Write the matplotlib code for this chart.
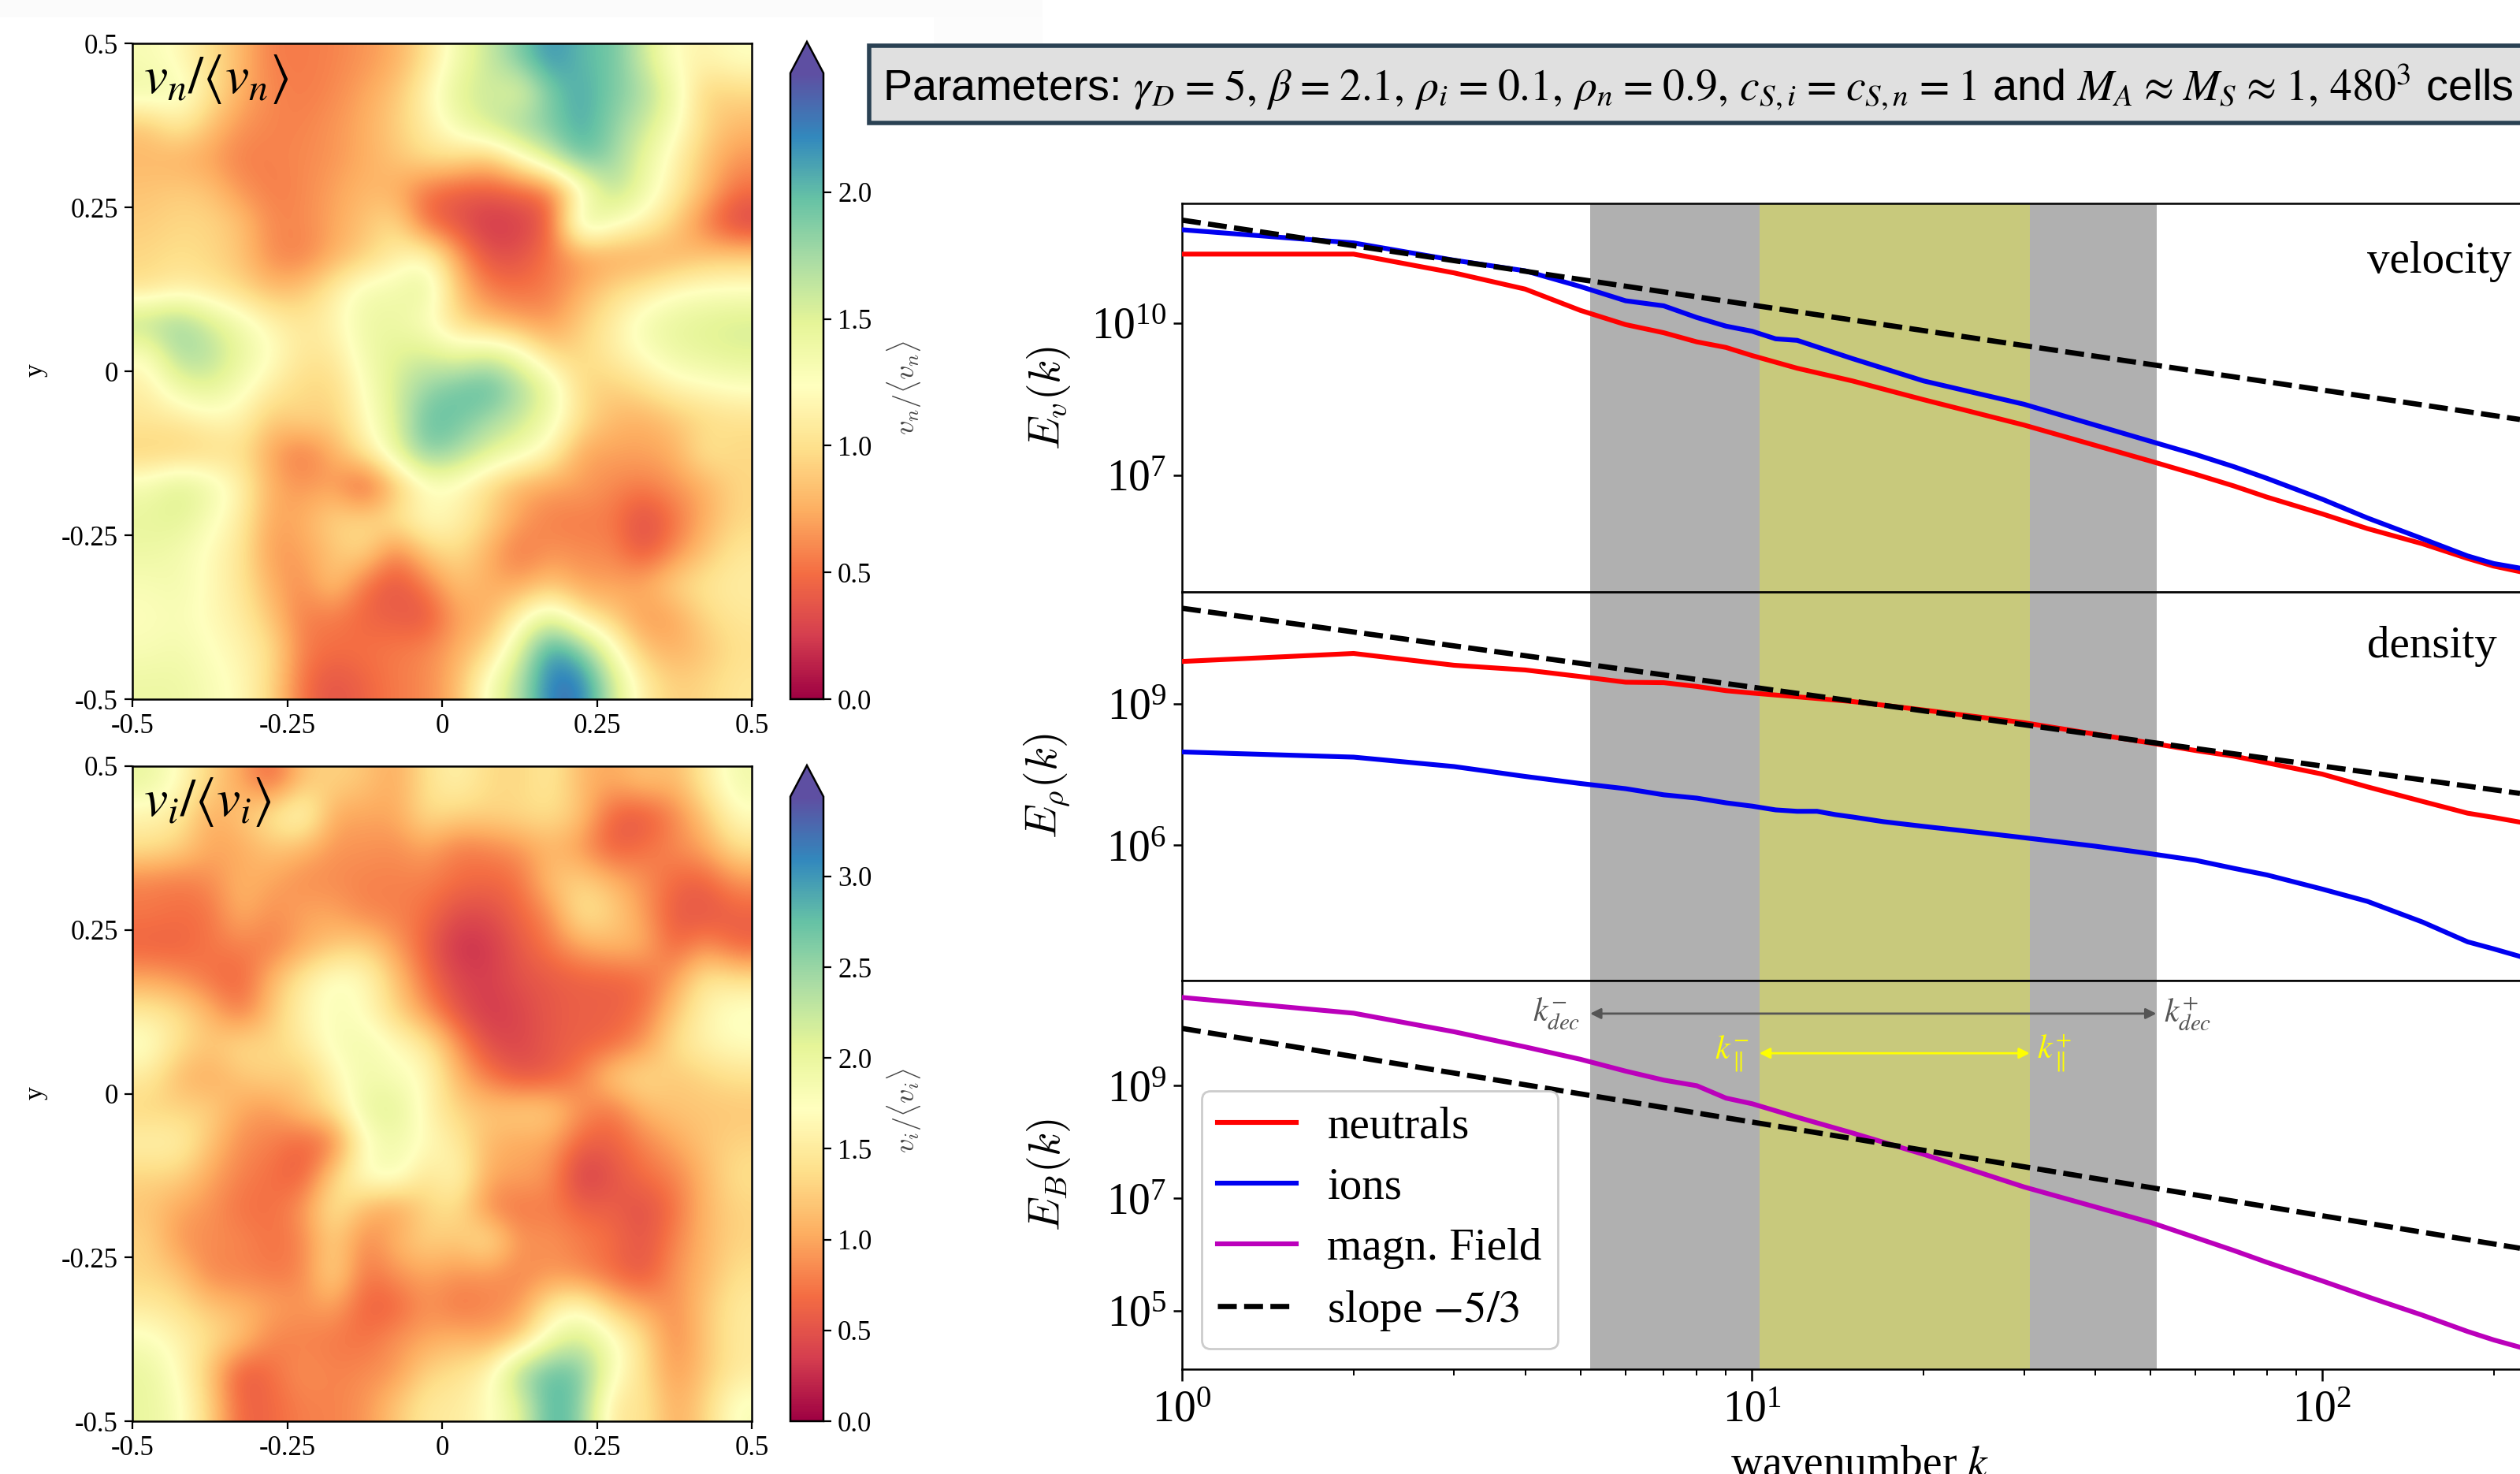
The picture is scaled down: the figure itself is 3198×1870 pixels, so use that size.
import numpy as np
import matplotlib
matplotlib.use("Agg")
import matplotlib.pyplot as plt
from matplotlib.lines import Line2D
from matplotlib.patches import Rectangle

plt.rcParams['font.family'] = ['Liberation Serif', 'DejaVu Serif']
plt.rcParams['mathtext.fontset'] = 'stix'
plt.rcParams['axes.unicode_minus'] = False

W, H = 3198, 1870
DPI = 200

# ---------- data ----------
vn_grid = [
 [1.30,1.20,1.00,0.80,0.55,0.55,0.58,0.65,0.75,1.00,1.35,1.60,1.90,2.20,2.00,1.95,1.60,1.20,1.15,1.25],
 [1.40,1.35,1.05,0.75,0.60,0.55,0.60,0.72,0.85,1.15,1.50,1.60,1.40,1.90,2.10,1.90,1.75,1.40,0.90,0.95],
 [0.85,1.10,0.85,0.65,0.58,0.58,0.65,0.75,0.90,1.10,1.35,1.60,1.80,1.90,2.10,1.85,1.60,1.30,0.95,0.80],
 [0.80,0.75,0.70,0.55,0.58,0.60,0.65,0.75,0.85,1.00,1.00,0.85,1.20,1.60,2.00,1.80,1.45,1.15,0.85,0.65],
 [0.85,0.90,0.85,0.65,0.55,0.60,0.70,0.80,0.75,0.50,0.40,0.40,0.45,0.50,1.10,1.70,1.40,1.10,0.80,0.50],
 [0.90,0.95,0.95,0.85,0.60,0.60,0.72,0.85,1.00,0.45,0.35,0.20,0.25,0.40,1.60,1.30,1.15,0.90,0.55,0.25],
 [0.95,1.00,0.95,0.85,0.60,0.55,0.75,0.90,1.10,1.25,0.70,0.35,0.35,0.55,0.65,0.70,0.70,0.75,0.85,0.90],
 [1.00,1.10,1.05,0.95,0.80,0.85,1.10,1.35,1.35,1.50,0.85,0.55,0.50,0.55,0.75,0.95,1.05,1.20,1.25,1.25],
 [1.70,1.80,1.55,1.35,1.15,1.05,1.15,1.40,1.40,1.25,0.95,0.80,0.70,0.65,0.90,1.10,1.35,1.45,1.50,1.55],
 [1.25,1.75,1.70,1.45,1.25,1.05,1.05,1.35,1.50,1.55,1.40,1.55,1.35,0.95,0.95,1.10,1.25,1.40,1.45,1.50],
 [1.10,1.40,1.50,1.30,1.10,0.95,0.95,1.25,1.55,1.80,1.95,2.05,1.75,1.45,0.95,0.90,1.00,1.15,1.20,1.25],
 [1.05,1.05,1.15,1.15,0.85,0.95,0.90,1.20,1.50,2.00,1.95,1.75,1.60,1.35,1.00,0.80,0.75,0.85,0.95,1.00],
 [0.90,0.90,0.95,1.00,0.70,0.50,0.75,1.05,1.45,1.90,1.75,1.50,1.35,1.15,0.70,0.70,0.70,0.75,1.05,0.95],
 [1.35,1.55,1.40,1.15,0.75,0.65,0.70,0.35,0.80,1.20,1.20,0.95,0.75,0.70,0.70,0.60,0.55,0.65,0.75,0.95],
 [1.45,1.50,1.30,1.10,0.70,0.75,0.95,0.95,1.05,1.25,1.15,0.95,0.70,0.55,0.55,0.55,0.30,0.50,0.75,0.95],
 [1.40,1.35,1.20,1.05,0.65,0.70,0.85,1.00,0.55,0.90,1.00,0.75,0.50,0.65,0.60,0.60,0.35,0.60,0.85,1.05],
 [1.30,1.35,1.20,1.05,0.75,0.60,0.90,0.50,0.35,0.55,0.85,0.75,0.70,0.85,0.70,0.70,0.75,0.95,1.05,1.10],
 [1.25,1.30,1.20,1.10,0.85,0.55,0.55,0.45,0.42,0.35,0.70,0.75,1.15,1.50,1.05,0.90,0.65,0.70,0.95,1.05],
 [1.30,1.35,1.25,1.15,1.00,0.55,0.50,0.52,0.55,0.60,0.75,0.95,1.50,2.20,1.90,1.30,0.85,0.75,0.85,1.00],
 [1.40,1.40,1.30,1.20,0.95,0.50,0.35,0.45,0.55,0.60,0.80,1.30,1.70,2.30,2.30,1.60,1.10,0.90,0.95,1.05],
]
vi_grid = [
 [2.0,1.7,1.3,1.0,0.6,1.2,1.3,1.2,1.0,1.4,1.6,1.35,1.3,1.5,1.1,1.0,1.2,1.1,1.5,1.9],
 [1.6,1.5,1.0,1.2,1.5,1.8,1.0,1.0,1.0,1.4,1.3,1.3,1.35,1.4,1.2,0.6,0.5,0.8,1.2,1.7],
 [1.4,1.3,1.0,1.0,1.2,1.1,0.9,0.9,0.85,1.0,0.75,0.8,0.9,1.1,0.9,0.55,0.7,0.85,1.0,1.4],
 [0.8,0.75,0.85,1.1,1.0,0.85,0.85,0.8,0.8,0.8,0.7,0.65,0.7,1.2,1.3,1.1,0.9,0.65,0.6,0.9],
 [0.75,0.7,0.7,1.1,0.85,1.0,1.0,0.8,0.8,0.7,0.45,0.45,0.65,0.85,1.5,1.3,0.95,0.55,0.5,0.6],
 [0.6,0.6,0.75,0.8,0.75,1.0,1.2,1.3,0.95,0.6,0.25,0.3,0.55,0.75,1.0,1.1,1.1,0.6,0.9,0.6],
 [1.0,0.9,0.7,0.6,1.1,1.5,1.8,1.7,1.2,0.7,0.4,0.35,0.5,0.55,0.6,0.6,0.65,0.95,1.5,1.4],
 [1.5,1.4,1.1,0.7,1.2,1.6,1.8,1.7,1.3,0.9,0.5,0.3,0.4,0.55,0.6,0.6,0.7,1.2,1.6,1.8],
 [1.8,1.4,1.2,1.4,1.3,1.5,1.8,1.9,1.7,1.5,0.9,0.45,0.4,0.55,0.6,0.65,0.9,1.4,1.6,1.7],
 [1.5,1.1,1.0,1.2,1.3,1.2,1.6,1.9,1.8,1.7,1.1,0.75,0.5,0.55,0.8,1.3,1.4,1.2,1.3,1.4],
 [1.3,1.3,1.3,1.0,0.9,1.2,1.4,2.0,2.1,1.6,1.3,1.2,1.3,1.3,0.9,0.7,1.1,1.2,1.2,1.2],
 [1.6,1.6,1.2,0.85,0.8,0.6,0.7,1.7,1.9,1.7,1.5,1.1,1.0,1.0,0.6,0.6,0.8,1.0,1.2,1.3],
 [1.3,1.3,1.0,0.8,0.7,0.55,1.3,1.8,1.9,1.4,1.7,1.0,1.0,0.9,0.3,0.5,0.7,0.8,1.1,1.4],
 [1.2,1.0,0.9,0.7,0.7,0.9,1.5,1.1,0.9,1.3,1.4,0.8,0.7,0.8,0.6,0.6,0.45,0.7,1.1,1.3],
 [1.3,0.9,0.85,0.85,0.7,0.8,1.3,0.8,1.1,1.3,1.2,1.5,0.9,0.9,0.8,0.7,0.5,0.8,1.1,1.3],
 [1.3,1.2,0.8,0.8,0.75,0.8,1.4,0.7,0.9,1.0,0.9,0.9,0.8,0.9,0.8,0.65,0.5,0.9,1.1,1.4],
 [1.5,1.4,1.2,1.1,1.0,0.9,1.0,0.6,0.6,0.9,0.7,0.8,0.9,1.5,1.7,1.2,1.0,0.85,1.2,1.5],
 [1.8,1.6,1.4,1.2,0.8,0.8,0.75,0.7,0.9,1.0,1.1,1.0,1.2,1.9,2.2,1.8,1.4,0.8,1.2,1.5],
 [2.0,1.7,1.2,0.5,0.7,0.9,0.8,0.85,0.9,1.3,1.4,1.6,2.5,2.8,2.7,1.8,1.4,0.9,1.2,1.5],
 [2.0,1.8,1.3,0.6,0.65,0.8,0.8,0.9,1.2,1.5,1.5,1.7,2.0,2.9,2.6,1.4,1.5,1.0,1.3,1.8],
]
vn_max = 2.47
vi_max = 3.44
vn_ticks = [0.0, 0.5, 1.0, 1.5, 2.0]
vi_ticks = [0.0, 0.5, 1.0, 1.5, 2.0, 2.5, 3.0]
xy_ticks = [-0.5, -0.25, 0, 0.25, 0.5]
xy_labels = ['-0.5', '-0.25', '0', '0.25', '0.5']

# velocity spectra (log10 of E)
k_vel_n = [1, 2, 3, 4, 5, 6, 7, 8, 9, 10, 12, 15, 20, 30, 50, 60, 70, 80, 100, 120, 150, 180, 200, 222.4]
logE_vel_n = [11.36, 11.36, 10.99, 10.67, 10.25, 9.97, 9.81, 9.63, 9.52, 9.36, 9.11, 8.86, 8.49, 7.99,
              7.28, 7.02, 6.79, 6.57, 6.24, 5.95, 5.65, 5.36, 5.21, 5.10]
k_vel_i = [1, 2, 3, 4, 5, 6, 7, 8, 9, 10, 11, 12, 15, 20, 30, 50, 60, 70, 80, 100, 120, 150, 180, 200, 222.4]
logE_vel_i = [11.84, 11.58, 11.24, 11.03, 10.72, 10.44, 10.34, 10.11, 9.94, 9.84, 9.69, 9.66, 9.30, 8.86, 8.40,
              7.67, 7.41, 7.17, 6.94, 6.53, 6.16, 5.75, 5.41, 5.26, 5.17]
logE_vel_slope = [12.03, 8.10]

# density spectra
k_den_n = [1, 2, 3, 4, 5, 6, 7, 8, 9, 10, 12, 15, 20, 30, 50, 60, 70, 80, 100, 120, 150, 180, 200, 222.4]
logE_den_n = [9.90, 10.07, 9.82, 9.72, 9.58, 9.46, 9.45, 9.37, 9.28, 9.23, 9.15, 9.05, 8.87, 8.60,
              8.17, 8.01, 7.89, 7.75, 7.51, 7.24, 6.93, 6.68, 6.59, 6.49]
k_den_i = [1, 2, 3, 4, 5, 6, 7, 8, 9, 10, 11, 12, 13, 14, 15, 17, 20, 25, 30, 40, 50, 60, 70, 80, 100, 120, 150, 180, 200, 222.4]
logE_den_i = [7.98, 7.87, 7.67, 7.46, 7.31, 7.20, 7.07, 7.00, 6.90, 6.83, 6.75, 6.72, 6.72, 6.65, 6.60, 6.50, 6.40,
              6.27, 6.16, 5.98, 5.82, 5.68, 5.51, 5.37, 5.07, 4.81, 4.37, 3.95, 3.80, 3.64]
logE_den_slope = [11.03, 7.10]

# magnetic spectrum
k_mag = [1, 2, 3, 4, 5, 6, 7, 8, 9, 10, 12, 15, 20, 30, 50, 60, 70, 80, 100, 120, 150, 180, 200, 222.4]
logE_mag = [10.57, 10.29, 9.96, 9.69, 9.47, 9.26, 9.10, 9.00, 8.78, 8.68, 8.44, 8.16, 7.78, 7.20,
            6.57, 6.30, 6.07, 5.86, 5.53, 5.25, 4.92, 4.63, 4.48, 4.35]
logE_mag_slope = [10.02, 6.11]

k_slope = [1, 222.4]
k_dec = [5.2, 51.2]
k_par = [10.3, 30.7]
k_max = 222.4

panel_names = ['velocity', 'density']
legend_labels = ['neutrals', 'ions', 'magn. Field', r'slope $-5/3$']

# ---------- helpers ----------
fig = plt.figure(figsize=(W / DPI, H / DPI), dpi=DPI)

def axpx(x0, y0, x1, y1, **kw):
    return fig.add_axes([x0 / W, 1 - y1 / H, (x1 - x0) / W, (y1 - y0) / H], **kw)

fig.patches.append(Rectangle((0, 1 - 22 / H), 1323 / W, 22 / H, transform=fig.transFigure,
                             fc='#fbfbfb', ec='none', zorder=-5))
fig.patches.append(Rectangle((1185 / W, 1 - 55 / H), 138 / W, 33 / H, transform=fig.transFigure,
                             fc='#fcfcfc', ec='none', zorder=-5))

def heat(grid, vmax, ticks, y0, y1, cby0, title, cblabel, ylab_y):
    ax = axpx(168, y0, 954, y1)
    im = ax.imshow(np.array(grid), cmap='Spectral', vmin=0, vmax=vmax, origin='upper',
                   extent=[-0.5, 0.5, -0.5, 0.5], aspect='auto', interpolation='bicubic')
    ax.set_xticks(xy_ticks)
    ax.set_xticklabels(xy_labels)
    ax.set_yticks(xy_ticks)
    ax.set_yticklabels(xy_labels)
    ax.tick_params(labelsize=12.5, length=3.5, width=0.8, pad=3)
    for s in ax.spines.values():
        s.set_linewidth(0.9)
    ax.text(0.018, 0.985, title, transform=ax.transAxes, ha='left', va='top', fontsize=24.5, color='k')
    fig.text(45 / W, 1 - ylab_y / H, 'y', rotation=90, ha='center', va='center', fontsize=12)
    cax = axpx(1003, cby0, 1045, y1)
    cb = fig.colorbar(im, cax=cax, extend='max', extendfrac=0.05, ticks=ticks)
    cb.ax.set_yticklabels(['%.1f' % t for t in ticks])
    cb.ax.tick_params(labelsize=12.5, length=3.5, width=0.8, pad=3)
    cb.outline.set_linewidth(0.9)
    fig.text(1148 / W, 1 - (ylab_y + 22) / H, cblabel, rotation=90, ha='center', va='center',
             fontsize=13, color='#444444', math_fontfamily='cm')
    return ax

heat(vn_grid, vn_max, vn_ticks, 55, 887, 53, r'$v_n/\langle v_n\rangle$', r'$v_n/\langle v_n\rangle$', 470)
heat(vi_grid, vi_max, vi_ticks, 972, 1803, 971, r'$v_i/\langle v_i\rangle$', r'$v_i/\langle v_i\rangle$', 1387)

# parameter box
fig.patches.append(Rectangle((1103 / W, 1 - 156 / H), 2300 / W, 98 / H, transform=fig.transFigure,
                             fc='#e0e0e0', ec='#2a4153', lw=2.0, zorder=1))
s_ = r'\hspace{0.09}'
rel_eq = s_ + '=' + s_
rel_ap = s_ + r'\approx' + s_
fig.text(1120 / W, 1 - 110 / H,
         r'Parameters: $\gamma_D' + rel_eq + r'5,\, \beta' + rel_eq + r'2.1,\, \rho_i' + rel_eq + r'0.1,\, \rho_n' + rel_eq
         + r'0.9,\, c_{S,i}' + rel_eq + r'c_{S,n}' + rel_eq + r'1$ and $M_A' + rel_ap + r'M_S' + rel_ap + r'1,\, 480^3$ cells',
         family=['Liberation Sans'], fontsize=20.05, ha='left', va='center', zorder=3)

# spectra panels
RED, BLUE, MAG = '#ff0000', '#0000f0', '#bb00bb'
LW = 2.2
def spec(y0, y1, ylim, yticks, ylab):
    ax = axpx(1500, y0, W, y1)
    ax.set_xscale('log')
    ax.set_yscale('log')
    ax.set_xlim(1, k_max)
    ax.set_ylim(10.0 ** ylim[0], 10.0 ** ylim[1])
    ax.axvspan(k_dec[0], k_dec[1], color='#b0b0b0', lw=0, zorder=0)
    ax.axvspan(k_par[0], k_par[1], color='#c8c97c', lw=0, zorder=0.5)
    ax.set_yticks([10.0 ** t for t in yticks])
    ax.set_yticklabels([r'$\mathdefault{10^{%d}}$' % t for t in yticks])
    ax.minorticks_off()
    ax.tick_params(axis='y', which='major', labelsize=20, length=4, width=0.9, pad=3)
    ax.spines['right'].set_visible(False)
    for s in ['top', 'bottom', 'left']:
        ax.spines[s].set_linewidth(0.9)
    ax.set_ylabel(ylab, fontsize=20, math_fontfamily='cm')
    ax.yaxis.set_label_coords((1361 - 1500) / (W - 1500), 0.5)
    return ax

def plot_log(ax, k, logE, **kw):
    ax.plot(k, 10.0 ** np.array(logE), **kw)

ax1 = spec(258, 751, (4.70, 12.36), [7, 10], r'$E_v(k)$')
ax2 = spec(751, 1244, (3.128, 11.375), [6, 9], r'$E_\rho(k)$')
ax3 = spec(1244, 1737, (3.96, 10.87), [5, 7, 9], r'$E_B(k)$')

DASHSTYLE = (0, (3.6, 1.4))
DASH = dict(color='k', lw=2.4, ls=DASHSTYLE, zorder=4)
plot_log(ax1, k_vel_n, logE_vel_n, color=RED, lw=LW, zorder=3)
plot_log(ax1, k_vel_i, logE_vel_i, color=BLUE, lw=LW, zorder=3)
plot_log(ax1, k_slope, logE_vel_slope, **DASH)
plot_log(ax2, k_den_n, logE_den_n, color=RED, lw=LW, zorder=3)
plot_log(ax2, k_den_i, logE_den_i, color=BLUE, lw=LW, zorder=3)
plot_log(ax2, k_slope, logE_den_slope, **DASH)
plot_log(ax3, k_mag, logE_mag, color=MAG, lw=LW, zorder=3)
plot_log(ax3, k_slope, logE_mag_slope, **DASH)

for ax in (ax1, ax2):
    ax.set_xticks([])
    ax.set_xticks([], minor=True)

name_x = (3004 - 1500) / (W - 1500)
ax1.text(name_x, 0.85, panel_names[0], transform=ax1.transAxes, ha='left', va='center', fontsize=20.5)
ax2.text(name_x, 0.86, panel_names[1], transform=ax2.transAxes, ha='left', va='center', fontsize=20.5)

ax3.set_xticks([1, 10, 100])
ax3.set_xticklabels([r'$\mathdefault{10^{%d}}$' % i for i in (0, 1, 2)])
ax3.set_xticks([j * 10 ** i for i in (0, 1) for j in range(2, 10)] + [200], minor=True)
ax3.set_xticklabels([], minor=True)
ax3.tick_params(axis='x', which='major', labelsize=20, length=5.4, width=0.9, pad=4)
ax3.tick_params(axis='x', which='minor', length=3, width=0.7)
ax3.set_xlabel(r'wavenumber $k$', fontsize=20)
ax3.xaxis.set_label_coords((2360 - 1500) / (W - 1500), -0.195)

# range arrows
tr = ax3.get_xaxis_transform()
ax3.annotate('', xy=(k_dec[1], 0.915), xytext=(k_dec[0], 0.915), xycoords=tr, textcoords=tr,
             arrowprops=dict(arrowstyle='<|-|>', color='#555555', lw=1.0, shrinkA=0, shrinkB=0, mutation_scale=10), zorder=5)
ax3.annotate('', xy=(k_par[1], 0.813), xytext=(k_par[0], 0.813), xycoords=tr, textcoords=tr,
             arrowprops=dict(arrowstyle='<|-|>', color='#ffff00', lw=1.0, shrinkA=0, shrinkB=0, mutation_scale=10), zorder=5)
ax3.text(k_dec[0] * 0.96, 0.915, r'$k_{dec}^{-}$', transform=tr, ha='right', va='center', fontsize=15, color='#555555')
ax3.text(k_dec[1] * 1.03, 0.915, r'$k_{dec}^{+}$', transform=tr, ha='left', va='center', fontsize=15, color='#555555')
ax3.text(k_par[0] * 0.96, 0.813, r'$k_{\parallel}^{-}$', transform=tr, ha='right', va='center', fontsize=15, color='#ffff00')
ax3.text(k_par[1] * 1.03, 0.813, r'$k_{\parallel}^{+}$', transform=tr, ha='left', va='center', fontsize=15, color='#ffff00')

handles = [Line2D([], [], color=RED, lw=LW), Line2D([], [], color=BLUE, lw=LW),
           Line2D([], [], color=MAG, lw=LW), Line2D([], [], color='k', lw=2.4, ls=DASHSTYLE)]
leg = ax3.legend(handles, legend_labels, loc='lower left',
                 bbox_to_anchor=((1525 - 1500) / (W - 1500), (1737 - 1711) / 493),
                 borderaxespad=0, fontsize=20.5, labelspacing=0.44, handlelength=1.75,
                 handletextpad=0.7, borderpad=0.35, framealpha=1, edgecolor='#cccccc', fancybox=True)
leg.get_frame().set_linewidth(1.0)
leg.set_zorder(6)

fig.savefig('out.png', dpi=DPI)
